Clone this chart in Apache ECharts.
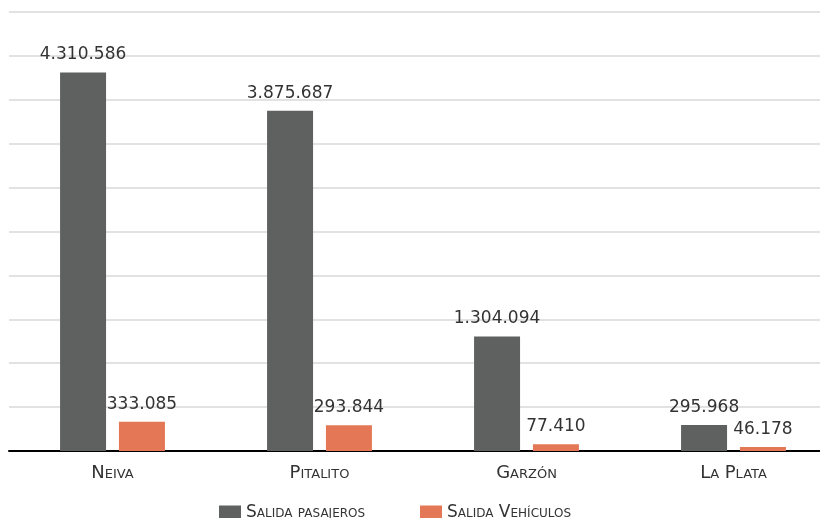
<!DOCTYPE html>
<html>
<head>
<meta charset="utf-8">
<script src="https://cdn.jsdelivr.net/npm/echarts@6/dist/echarts.min.js"></script>
<style>
html,body{margin:0;padding:0;background:#fff;overflow:hidden;width:820px;height:518px;}
#chart{width:840px;height:518px;}
</style>
</head>
<body>
<div id="chart"></div>
<script>
const categories = ['Neiva', 'Pitalito', 'Garzón', 'La Plata'];
const seriesNames = ['Salida pasajeros', 'Salida Vehículos'];
const pasajeros = [4310586, 3875687, 1304094, 295968];
const vehiculos = [333085, 293844, 77410, 46178];
const yMax = 5000000;
const yStep = 500000;

function fmt(v) {
  return String(v).replace(/\B(?=(\d{3})+(?!\d))/g, '.');
}

const chart = echarts.init(document.getElementById('chart'), null, {renderer: 'canvas'});
const labelStyle = {
  show: true,
  position: 'top',
  distance: 9,
  color: '#333',
  fontFamily: 'DejaVu Sans',
  fontSize: 17,
  formatter: p => fmt(p.value)
};
const legendBase = {
  top: 499,
  itemWidth: 22,
  itemHeight: 14,
  itemGap: 12,
  icon: 'rect',
  textStyle: {fontFamily: 'DejaVu Sans', fontStyle: 'small-caps', fontSize: 17, color: '#333'}
};
chart.setOption({
  animation: false,
  backgroundColor: '#fff',
  grid: {left: 9, width: 828, top: 12, height: 439},
  legend: [
    Object.assign({}, legendBase, {data: [seriesNames[0]], left: 214}),
    Object.assign({}, legendBase, {data: [seriesNames[1]], left: 415})
  ],
  xAxis: {
    type: 'category',
    data: categories,
    axisLine: {lineStyle: {color: '#000', width: 2}},
    axisTick: {show: false},
    axisLabel: {margin: 13, color: '#333', fontFamily: 'DejaVu Sans', fontStyle: 'small-caps', fontSize: 18}
  },
  yAxis: {
    type: 'value',
    min: 0,
    max: yMax,
    interval: yStep,
    axisLabel: {show: false},
    axisLine: {show: false},
    axisTick: {show: false},
    splitLine: {lineStyle: {color: '#e2e2e2', width: 2}}
  },
  series: [
    {
      name: seriesNames[0],
      type: 'bar',
      data: pasajeros,
      barWidth: 46,
      barGap: '28%',
      itemStyle: {color: '#5e615f'},
      label: labelStyle
    },
    {
      name: seriesNames[1],
      type: 'bar',
      data: vehiculos,
      barWidth: 46,
      itemStyle: {color: '#e47856'},
      label: labelStyle
    }
  ]
});
</script>
</body>
</html>
